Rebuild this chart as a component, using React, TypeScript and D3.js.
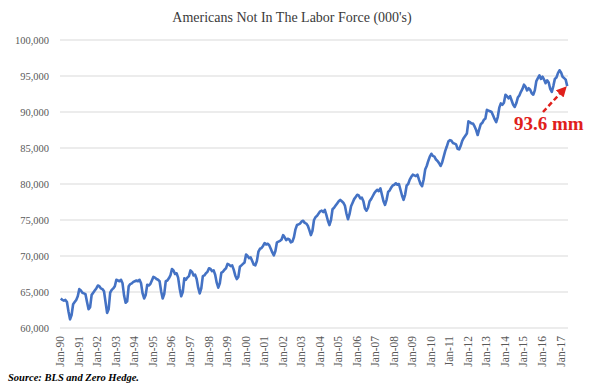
import React, { useEffect, useRef } from 'react';
import * as d3 from 'd3';

// monthly, Jan 1990 .. May 2017 (thousands)
const notInLaborForce: number[] = [
  // 1990
  64100, 63900, 63800, 63900, 63600, 62300, 61200, 61800, 63300, 63600, 63900, 64400,
  // 1991
  65400, 65200, 64900, 64800, 64700, 63600, 62600, 62900, 64600, 64900, 65200, 65500,
  // 1992
  65900, 65800, 65500, 65400, 65100, 63600, 62100, 62600, 64900, 65300, 65500, 65800,
  // 1993
  66700, 66600, 66500, 66700, 66200, 64500, 63500, 63700, 65800, 66100, 66200, 66400,
  // 1994
  66500, 66600, 66500, 66700, 66200, 64800, 64100, 64600, 66000, 65900, 66100, 66600,
  // 1995
  67100, 67000, 66800, 66700, 66500, 65100, 64100, 64700, 66500, 66600, 66900, 67300,
  // 1996
  68200, 68000, 67500, 67600, 67000, 65500, 64400, 65000, 66900, 66700, 67000, 67200,
  // 1997
  68000, 67800, 67300, 67400, 66800, 65600, 64800, 65500, 67200, 67300, 67600, 67800,
  // 1998
  68300, 68200, 67900, 68000, 67400, 66300, 65600, 66200, 67700, 67800, 68100, 68300,
  // 1999
  68900, 68800, 68600, 68700, 68100, 67300, 66800, 67100, 68500, 68700, 68900, 69100,
  // 2000
  70200, 70000, 69700, 69800, 69300, 68800, 68700, 69300, 70600, 71000, 71100, 71400,
  // 2001
  71800, 71600, 71700, 71500, 71000, 70500, 70100, 70700, 71900, 72000, 72100, 72300,
  // 2002
  72900, 72600, 72200, 72400, 72300, 71900, 72000, 72600, 73700, 74300, 74400, 74500,
  // 2003
  74800, 74900, 74600, 74500, 74200, 73600, 72900, 73500, 75000, 75400, 75600, 75900,
  // 2004
  76200, 76300, 76100, 76400, 75700, 74900, 74300, 75000, 76500, 76700, 77000, 77300,
  // 2005
  77600, 77800, 77600, 77400, 77000, 75900, 75100, 75800, 76900, 77400, 77900, 78200,
  // 2006
  78500, 78400, 78000, 78100, 77600, 76600, 76300, 76700, 77600, 77900, 78300, 78700,
  // 2007
  79000, 79200, 79000, 79400, 78500, 77600, 77100, 77800, 78900, 79100, 79500, 79800,
  // 2008
  79900, 80100, 79900, 80000, 79200, 78400, 77800, 78500, 79800, 80000, 80600, 81000,
  // 2009
  81300, 81200, 81100, 81300, 80600, 80000, 79700, 80600, 82000, 82500, 83200, 83800,
  // 2010
  84200, 83900, 83800, 83400, 83200, 82900, 82500, 83000, 83800, 84600, 85200, 85900,
  // 2011
  86100, 86000, 85700, 85600, 85500, 84900, 84800, 85300, 86000, 86400, 86700, 87000,
  // 2012
  88700, 88600, 88400, 88400, 88000, 87500, 86800, 87600, 88300, 88500, 88900, 89100,
  // 2013
  90300, 90200, 90100, 90000, 89500, 89000, 88600, 89300, 90600, 91200, 91000, 91300,
  // 2014
  92400, 92200, 91900, 92200, 91600, 91000, 90700, 91200, 92000, 92300, 92800, 93200,
  // 2015
  93800, 93500, 93000, 93300, 93100, 92600, 92400, 93000, 94300, 94700, 95100, 94600,
  // 2016
  94900, 94500, 94000, 94400, 94100, 93200, 92800, 93600, 94600, 94800, 95400, 95800,
  // 2017
  95500, 94900, 94700, 94500, 93600,
];

const tickLabels = [
  'Jan-90', 'Jan-91', 'Jan-92', 'Jan-93', 'Jan-94', 'Jan-95', 'Jan-96', 'Jan-97', 'Jan-98',
  'Jan-99', 'Jan-00', 'Jan-01', 'Jan-02', 'Jan-03', 'Jan-04', 'Jan-05', 'Jan-06', 'Jan-07',
  'Jan-08', 'Jan-09', 'Jan-10', 'Jan-11', 'Jan-12', 'Jan-13', 'Jan-14', 'Jan-15', 'Jan-16',
  'Jan-17',
];

const yTicks = [60000, 65000, 70000, 75000, 80000, 85000, 90000, 95000, 100000];

const W = 600;
const H = 387;
const margin = { top: 40, right: 32, bottom: 59, left: 60 };
const serif = '"Liberation Serif", "Times New Roman", serif';

const App: React.FC = () => {
  const svgRef = useRef<SVGSVGElement>(null);

  useEffect(() => {
    if (!svgRef.current) return;
    const svg = d3.select(svgRef.current);
    svg.selectAll('*').remove();

    const chartW = W - margin.left - margin.right;
    const chartH = H - margin.top - margin.bottom;

    const xScale = d3.scaleBand<number>()
      .domain(notInLaborForce.map((_, i) => i))
      .range([0, chartW])
      .padding(0);
    const xc = (i: number) => (xScale(i) || 0) + xScale.bandwidth() / 2;

    const yScale = d3.scaleLinear()
      .domain([60000, 100000])
      .range([chartH, 0]);

    const g = svg.append('g')
      .attr('transform', `translate(${margin.left},${margin.top})`);

    // gridlines + y labels
    g.selectAll('line.grid')
      .data(yTicks)
      .enter()
      .append('line')
      .attr('x1', 0)
      .attr('x2', chartW)
      .attr('y1', d => yScale(d))
      .attr('y2', d => yScale(d))
      .attr('stroke', '#d9d9d9')
      .attr('stroke-width', 1);

    g.selectAll('text.ylab')
      .data(yTicks)
      .enter()
      .append('text')
      .attr('x', -11)
      .attr('y', d => yScale(d))
      .attr('dy', '0.35em')
      .attr('text-anchor', 'end')
      .attr('font-family', serif)
      .attr('font-size', 10.5)
      .attr('fill', '#595959')
      .text(d => d3.format(',')(d));

    // x labels, one per January
    g.selectAll('text.xlab')
      .data(tickLabels)
      .enter()
      .append('text')
      .attr('transform', (_, k) => `translate(${xc(k * 12) + 3.5},${chartH + 8}) rotate(-90)`)
      .attr('text-anchor', 'end')
      .attr('font-family', serif)
      .attr('font-size', 11.5)
      .attr('fill', '#595959')
      .text(d => d);

    const line = d3.line<number>()
      .x((_, i) => xc(i))
      .y(d => yScale(d));

    g.append('path')
      .datum(notInLaborForce)
      .attr('d', line)
      .attr('fill', 'none')
      .attr('stroke', '#4472C4')
      .attr('stroke-width', 2.6)
      .attr('stroke-linejoin', 'round');

    // title
    svg.append('text')
      .attr('x', 292)
      .attr('y', 22)
      .attr('text-anchor', 'middle')
      .attr('font-family', serif)
      .attr('font-size', 14)
      .attr('fill', '#3a3a3a')
      .text("Americans Not In The Labor Force (000's)");

    // annotation
    const red = '#E0201B';
    const last = notInLaborForce.length - 1;
    const tipX = margin.left + xc(last) - 4;
    const tipY = margin.top + yScale(notInLaborForce[last]) + 4;
    svg.append('defs').append('marker')
      .attr('id', 'arrowhead')
      .attr('viewBox', '0 0 10 10')
      .attr('refX', 5)
      .attr('refY', 5)
      .attr('markerWidth', 4.2)
      .attr('markerHeight', 4.2)
      .attr('orient', 'auto')
      .append('path')
      .attr('d', 'M0,0 L10,5 L0,10 Z')
      .attr('fill', red);
    svg.append('line')
      .attr('x1', 543)
      .attr('y1', 112)
      .attr('x2', tipX)
      .attr('y2', tipY)
      .attr('stroke', red)
      .attr('stroke-width', 2.5)
      .attr('stroke-dasharray', '5,3')
      .attr('marker-end', 'url(#arrowhead)');
    svg.append('text')
      .attr('x', 514)
      .attr('y', 130)
      .attr('font-family', serif)
      .attr('font-size', 19)
      .attr('font-weight', 'bold')
      .attr('fill', red)
      .text('93.6 mm');

    // source
    svg.append('text')
      .attr('x', 8)
      .attr('y', 381)
      .attr('font-family', serif)
      .attr('font-size', 10.5)
      .attr('font-weight', 'bold')
      .attr('font-style', 'italic')
      .attr('fill', '#000')
      .text('Source: BLS and Zero Hedge.');
  }, []);

  return (
    <svg
      ref={svgRef}
      width={W}
      height={H}
      style={{ position: 'absolute', left: 0, top: 0, background: '#fff' }}
    />
  );
};

export default App;
